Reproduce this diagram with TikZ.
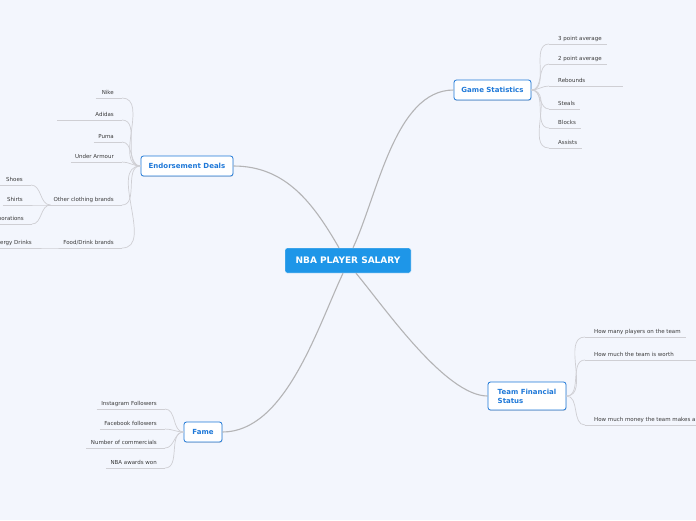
\documentclass[tikz,border=0pt]{standalone}
\usepackage{fontspec}
\setmainfont{DejaVu Sans}
\usepackage{xcolor}
\usepackage{tikz}
\usetikzlibrary{shadows}

\definecolor{canvas}{HTML}{F3F6FD}
\definecolor{rootblue}{HTML}{1E96E8}
\definecolor{topicblue}{HTML}{1E78D8}
\definecolor{leafgray}{HTML}{3A3A3A}
\definecolor{branchgray}{HTML}{B4B4B6}
\definecolor{twiggray}{HTML}{CFCFD4}

\begin{document}
\begin{tikzpicture}[
    x=1pt, y=-1pt,
    root/.style={fill=rootblue, draw=white, line width=0.4pt, rounded corners=2pt,
                 text=white, font=\fontsize{9}{10}\selectfont\bfseries,
                 minimum width=126pt, minimum height=25pt},
    topic/.style={draw=topicblue, line width=0.8pt, fill=white, rounded corners=2.5pt,
                  text=topicblue, font=\fontsize{7}{9}\selectfont\bfseries,
                  minimum height=20pt, inner xsep=4pt,
                  drop shadow={shadow xshift=0.4pt, shadow yshift=-0.9pt, opacity=0.25}},
    leaf/.style={font=\fontsize{5.5}{6.5}\selectfont, text=leafgray, inner xsep=0pt,
                 inner ysep=2pt, text height=4.2pt, text depth=1.4pt},
    leafR/.style={leaf, anchor=south west,
                  append after command={([xshift=-9pt]\tikzlastnode.south west)
                      edge[twig] ([xshift=#1]\tikzlastnode.south east)}},
    leafR/.default=5pt,
    leafL/.style={leaf, anchor=south east,
                  append after command={([xshift=-#1]\tikzlastnode.south west)
                      edge[twig] ([xshift=8pt]\tikzlastnode.south east)}},
    leafL/.default=4.5pt,
    branch/.style={draw=branchgray, line width=1.1pt},
    twig/.style={draw=twiggray, line width=0.7pt}
]
  \fill[canvas] (0,0) rectangle (696,520);
  \useasboundingbox (0,0) rectangle (696,520);

  % Main topics
  \node[root] (root) at (348,260.5) {NBA PLAYER SALARY};
  \node[topic, minimum width=77pt] (stats) at (492.5,90) {Game Statistics};
  \node[topic, minimum width=92pt] (endorse) at (187,166) {Endorsement Deals};
  \node[topic, minimum width=78pt, minimum height=28pt, inner xsep=9pt, align=left]
      (finance) at (527,396) {Team Financial\\Status};
  \node[topic, minimum width=38pt] (fame) at (203,432) {Fame};

  % Game statistics
  \node[leafR] (st1) at (558,44) {3 point average};
  \node[leafR] (st2) at (558,64) {2 point average};
  \node[leafR=37pt] (st3) at (558,86) {Rebounds};
  \node[leafR] (st4) at (558,109) {Steals};
  \node[leafR] (st5) at (558,128) {Blocks};
  \node[leafR] (st6) at (558,148) {Assists};

  % Endorsements
  \node[leafL=6pt] (en1) at (114,98) {Nike};
  \node[leafL=38pt] (en2) at (114,120) {Adidas};
  \node[leafL] (en3) at (114,142) {Puma};
  \node[leafL=4pt] (en4) at (114,162) {Under Armour};
  \node[leafL=3pt] (en5) at (114,205) {Other clothing brands};
  \node[leafL=3pt] (en6) at (114,248) {Food/Drink brands};
  \node[leafL=20pt] (cl1) at (23,185) {Shoes};
  \node[leafL=4pt] (cl2) at (23,205) {Shirts};
  \node[leafL=20pt] (cl3) at (24,224) {Corporations};
  \node[leafL=20pt] (dr1) at (32,248) {Energy Drinks};

  % Team finances
  \node[leafR] (fi1) at (594,337) {How many players on the team};
  \node[leafR=120pt] (fi2) at (594,360) {How much the team is worth};
  \node[leafR=40pt] (fi3) at (594,425) {How much money the team makes a year};

  % Fame
  \node[leafL] (fa1) at (157,409) {Instagram Followers};
  \node[leafL] (fa2) at (157,429) {Facebook followers};
  \node[leafL] (fa3) at (157,448) {Number of commercials};
  \node[leafL] (fa4) at (157,468) {NBA awards won};

  % Branches
  \draw[branch] ([xshift=5pt]root.north) to[out=65,in=180,looseness=0.8] (stats.west);
  \draw[branch] ([xshift=-9pt]root.north) to[out=120,in=0] (endorse.east);
  \draw[branch] ([xshift=8pt]root.south) to[out=-50,in=180,looseness=0.6] (finance.west);
  \draw[branch] ([xshift=-5pt]root.south) to[out=-115,in=0,looseness=0.8] (fame.east);

  % Twigs
  \draw[twig] (stats.east) to[out=0,in=180] ([xshift=-9pt]st1.south west);
  \draw[twig] (stats.east) to[out=0,in=180] ([xshift=-9pt]st2.south west);
  \draw[twig] (stats.east) to[out=0,in=180] ([xshift=-9pt]st3.south west);
  \draw[twig] (stats.east) to[out=0,in=180] ([xshift=-9pt]st4.south west);
  \draw[twig] (stats.east) to[out=0,in=180] ([xshift=-9pt]st5.south west);
  \draw[twig] (stats.east) to[out=0,in=180] ([xshift=-9pt]st6.south west);

  \draw[twig] (endorse.west) to[out=180,in=0] ([xshift=8pt]en1.south east);
  \draw[twig] (endorse.west) to[out=180,in=0] ([xshift=8pt]en2.south east);
  \draw[twig] (endorse.west) to[out=180,in=0] ([xshift=8pt]en3.south east);
  \draw[twig] (endorse.west) to[out=180,in=0] ([xshift=8pt]en4.south east);
  \draw[twig] (endorse.west) to[out=180,in=0] ([xshift=8pt]en5.south east);
  \draw[twig] (endorse.west) to[out=180,in=0] ([xshift=8pt]en6.south east);
  \draw[twig] ([xshift=-3pt]en5.south west) to[out=180,in=0] ([xshift=8pt]cl1.south east);
  \draw[twig] ([xshift=-3pt]en5.south west) to[out=180,in=0] ([xshift=8pt]cl2.south east);
  \draw[twig] ([xshift=-3pt]en5.south west) to[out=180,in=0] ([xshift=8pt]cl3.south east);
  \draw[twig] ([xshift=-3pt]en6.south west) to[out=180,in=0] ([xshift=8pt]dr1.south east);

  \draw[twig] (finance.east) to[out=0,in=180] ([xshift=-9pt]fi1.south west);
  \draw[twig] (finance.east) to[out=0,in=180] ([xshift=-9pt]fi2.south west);
  \draw[twig] (finance.east) to[out=0,in=180] ([xshift=-9pt]fi3.south west);

  \draw[twig] (fame.west) to[out=180,in=0] ([xshift=8pt]fa1.south east);
  \draw[twig] (fame.west) to[out=180,in=0] ([xshift=8pt]fa2.south east);
  \draw[twig] (fame.west) to[out=180,in=0] ([xshift=8pt]fa3.south east);
  \draw[twig] (fame.west) to[out=180,in=0] ([xshift=8pt]fa4.south east);
\end{tikzpicture}
\end{document}
